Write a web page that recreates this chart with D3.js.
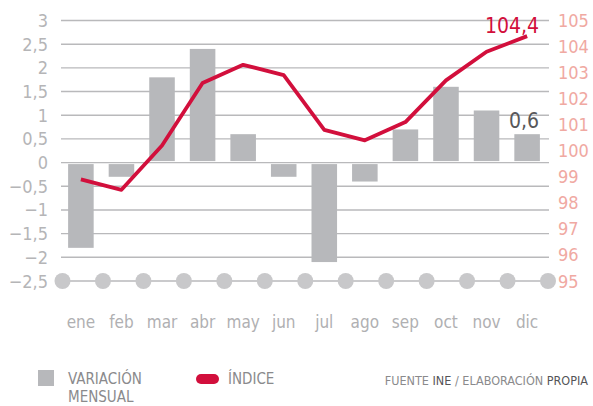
<!DOCTYPE html>
<html>
<head>
<meta charset="utf-8">
<script src="https://cdn.jsdelivr.net/npm/d3@7"></script>
<style>
  body { margin: 0; background: #fff; }
  svg text { font-family: "DejaVu Sans Condensed", "DejaVu Sans", sans-serif; font-stretch: condensed; }
</style>
</head>
<body>
<svg id="chart" width="593" height="406"></svg>
<script>
// data
var months = ["ene", "feb", "mar", "abr", "may", "jun", "jul", "ago", "sep", "oct", "nov", "dic"];
var variacion = [-1.8, -0.3, 1.8, 2.4, 0.6, -0.3, -2.1, -0.4, 0.7, 1.6, 1.1, 0.6];
var indice = [98.9, 98.5, 100.2, 102.6, 103.3, 102.9, 100.8, 100.4, 101.1, 102.7, 103.8, 104.4];
var leftTicks = [3, 2.5, 2, 1.5, 1, 0.5, 0, -0.5, -1, -1.5, -2, -2.5];
var rightTicks = [105, 104, 103, 102, 101, 100, 99, 98, 97, 96, 95];

var svg = d3.select("#chart");

var x = d3.scaleBand().domain(months).range([60, 548]).paddingInner(0.37).paddingOuter(0.2);
var yL = d3.scaleLinear().domain([-2.5, 3]).range([281, 20.5]);
var yR = d3.scaleLinear().domain([95, 105]).range([281, 20.5]);

var fmt = function(v){ return String(v).replace(".", ",").replace("-", "\u2212"); };

// gridlines
svg.append("g").selectAll("line")
    .data(leftTicks)
    .enter().append("line")
    .attr("x1", 61).attr("x2", 549)
    .attr("y1", function(d){ return yL(d); })
    .attr("y2", function(d){ return yL(d); })
    .attr("stroke", "#b9b9bb")
    .attr("stroke-width", 1.4);

// left axis labels
svg.append("g").selectAll("text")
    .data(leftTicks)
    .enter().append("text")
    .attr("x", 48)
    .attr("y", function(d){ return yL(d) + 6.5; })
    .attr("text-anchor", "end")
    .attr("font-size", 18)
    .attr("fill", "#b5b5b7")
    .text(fmt);

// right axis labels
svg.append("g").selectAll("text")
    .data(rightTicks)
    .enter().append("text")
    .attr("x", 558)
    .attr("y", function(d){ return yR(d) + 6.5; })
    .attr("font-size", 18)
    .attr("fill", "#f0a9a2")
    .text(fmt);

// bars
svg.append("g").selectAll("rect")
    .data(variacion)
    .enter().append("rect")
    .attr("x", function(d, i){ return x(months[i]); })
    .attr("width", x.bandwidth())
    .attr("y", function(d){ return d >= 0 ? yL(d) : yL(0) + 1.5; })
    .attr("height", function(d){ return d >= 0 ? yL(0) - 1.5 - yL(d) : yL(d) - yL(0) - 1.5; })
    .attr("fill", "#b7b8bb");

// dots on the bottom line
var dotX = d3.scaleLinear().domain([0, 12]).range([62.5, 548]);
svg.append("g").selectAll("circle")
    .data(d3.range(13))
    .enter().append("circle")
    .attr("cx", function(d){ return dotX(d); })
    .attr("cy", yL(-2.5))
    .attr("r", 8)
    .attr("fill", "#c8c8ca");

// month labels
svg.append("g").selectAll("text")
    .data(months)
    .enter().append("text")
    .attr("x", function(d){ return x(d) + x.bandwidth() / 2; })
    .attr("y", 328)
    .attr("text-anchor", "middle")
    .attr("font-size", 17)
    .attr("fill", "#b0b0b2")
    .text(function(d){ return d; });

// index line
var line = d3.line()
    .x(function(d, i){ return x(months[i]) + x.bandwidth() / 2; })
    .y(function(d){ return yR(d); });

svg.append("path")
    .datum(indice)
    .attr("d", line)
    .attr("fill", "none")
    .attr("stroke", "#d20f3c")
    .attr("stroke-width", 3.8)
    .attr("stroke-linejoin", "round");

// value labels
var last = months.length - 1;
svg.append("text")
    .attr("x", 539)
    .attr("y", yR(indice[last]) - 3)
    .attr("text-anchor", "end")
    .attr("font-size", 21)
    .attr("fill", "#d20f3c")
    .text(fmt(indice[last]));

svg.append("text")
    .attr("x", 539)
    .attr("y", yL(variacion[last]) - 6)
    .attr("text-anchor", "end")
    .attr("font-size", 21)
    .attr("fill", "#58585a")
    .text(fmt(variacion[last]));

// legend
var legend = svg.append("g");
legend.append("rect")
    .attr("x", 38).attr("y", 370).attr("width", 16).attr("height", 16)
    .attr("fill", "#b7b8bb");
legend.append("text")
    .attr("x", 68).attr("y", 384)
    .attr("font-size", 15).attr("fill", "#8a8a8c")
    .text("VARIACIÓN");
legend.append("text")
    .attr("x", 68).attr("y", 402)
    .attr("font-size", 15).attr("fill", "#8a8a8c")
    .text("MENSUAL");
legend.append("rect")
    .attr("x", 196).attr("y", 374).attr("width", 23).attr("height", 10).attr("rx", 5)
    .attr("fill", "#d20f3c");
legend.append("text")
    .attr("x", 228).attr("y", 384)
    .attr("font-size", 15).attr("fill", "#8a8a8c")
    .text("ÍNDICE");

var src = legend.append("text")
    .attr("x", 588).attr("y", 385)
    .attr("text-anchor", "end")
    .attr("font-size", 12.5);
src.append("tspan").attr("fill", "#8a8a8c").text("FUENTE ");
src.append("tspan").attr("fill", "#555557").text("INE");
src.append("tspan").attr("fill", "#8a8a8c").text(" / ELABORACIÓN ");
src.append("tspan").attr("fill", "#555557").text("PROPIA");
</script>
</body>
</html>
